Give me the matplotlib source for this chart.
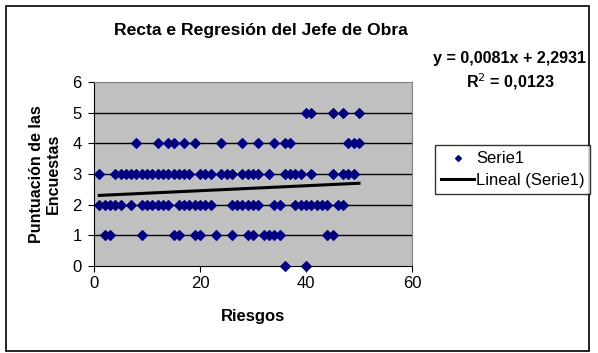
import numpy as np
import matplotlib
matplotlib.use("Agg")
import matplotlib.pyplot as plt
from matplotlib.patches import Rectangle

plt.rcParams['font.family'] = ['Liberation Sans', 'DejaVu Sans']

# riesgos (x) por cada puntuacion (y)
x_p5 = [40, 41, 45, 47, 50]
x_p4 = [8, 12, 14, 15, 17, 19, 24, 28, 31, 34, 36, 37, 48, 49, 50]
x_p3 = [1, 4, 5, 6, 7, 8, 9, 10, 11, 12, 13, 14, 15, 16, 17, 18, 20, 21, 22,
        24, 25, 26, 28, 29, 30, 31, 33, 36, 37, 38, 39, 41, 45, 47, 48, 49]
x_p2 = [1, 2, 3, 4, 5, 7, 9, 10, 11, 12, 13, 14, 16, 17, 18, 19, 20, 21, 22,
        26, 27, 28, 29, 30, 31, 34, 35, 38, 39, 40, 41, 42, 43, 44, 46, 47]
x_p1 = [2, 3, 9, 15, 16, 19, 20, 23, 26, 29, 30, 32, 33, 34, 35, 44, 45]
x_p0 = [36, 40]

slope = 0.0081
intercept = 2.2931
eq_text = "y = 0,0081x + 2,2931"
r2_text = "R$^2$ = 0,0123"

x_ticks = [0, 20, 40, 60]
y_ticks = [0, 1, 2, 3, 4, 5, 6]

xs = []
ys = []
for score, group in zip([5, 4, 3, 2, 1, 0], [x_p5, x_p4, x_p3, x_p2, x_p1, x_p0]):
    xs += group
    ys += [score] * len(group)
xs = np.array(xs)
ys = np.array(ys)

fig = plt.figure(figsize=(5.98, 3.53), dpi=100)
fig.patches.append(Rectangle((6 / 598, 2 / 353), 583 / 598, 345 / 353,
                             transform=fig.transFigure, fill=False,
                             edgecolor='black', linewidth=1.2))

ax = fig.add_axes([94 / 598, (353 - 266) / 353, 318 / 598, 184 / 353])
ax.set_facecolor('#C0C0C0')
ax.set_xlim(0, 60)
ax.set_ylim(0, 6)
ax.set_xticks(x_ticks)
ax.set_yticks(y_ticks)
for y in y_ticks[1:-1]:
    ax.axhline(y, color='black', linewidth=1, zorder=1)

ax.scatter(xs, ys, marker='D', s=24, color='#000080', zorder=3,
           label='Serie1', clip_on=False)
xl = np.array([xs.min(), xs.max()])
ax.plot(xl, slope * xl + intercept, color='black', linewidth=2.2, zorder=2,
        label='Lineal (Serie1)')

for side in ['top', 'right']:
    ax.spines[side].set_color('#808080')
for side in ['left', 'bottom']:
    ax.spines[side].set_color('black')
ax.tick_params(direction='out', length=4, labelsize=12, colors='black')
ax.tick_params(axis='y', pad=5)

ax.set_xlabel('Riesgos', fontsize=12, fontweight='bold', labelpad=13)
ax.set_ylabel('Puntuación de las\nEncuestas', fontsize=11.5, fontweight='bold',
              labelpad=8, linespacing=1.15)

fig.text(261 / 598, 1 - 30 / 353, 'Recta e Regresión del Jefe de Obra',
         ha='center', va='center', fontsize=12.6, fontweight='bold')
fig.text(586 / 598, 1 - 58 / 353, eq_text, ha='right', va='center',
         fontsize=11.6, fontweight='bold')
fig.text(510 / 598, 1 - 82 / 353, r2_text, ha='center', va='center',
         fontsize=11.6, fontweight='bold')

leg = fig.legend(loc='upper left', bbox_to_anchor=(435 / 598, 1 - 145 / 353),
                 fontsize=12, frameon=True, fancybox=False,
                 edgecolor='black', borderpad=0.35, handlelength=2.0,
                 handletextpad=0.1, labelspacing=0.45, markerscale=0.6,
                 borderaxespad=0)
leg.get_frame().set_linewidth(1)

fig.savefig('out.png', dpi=100)
